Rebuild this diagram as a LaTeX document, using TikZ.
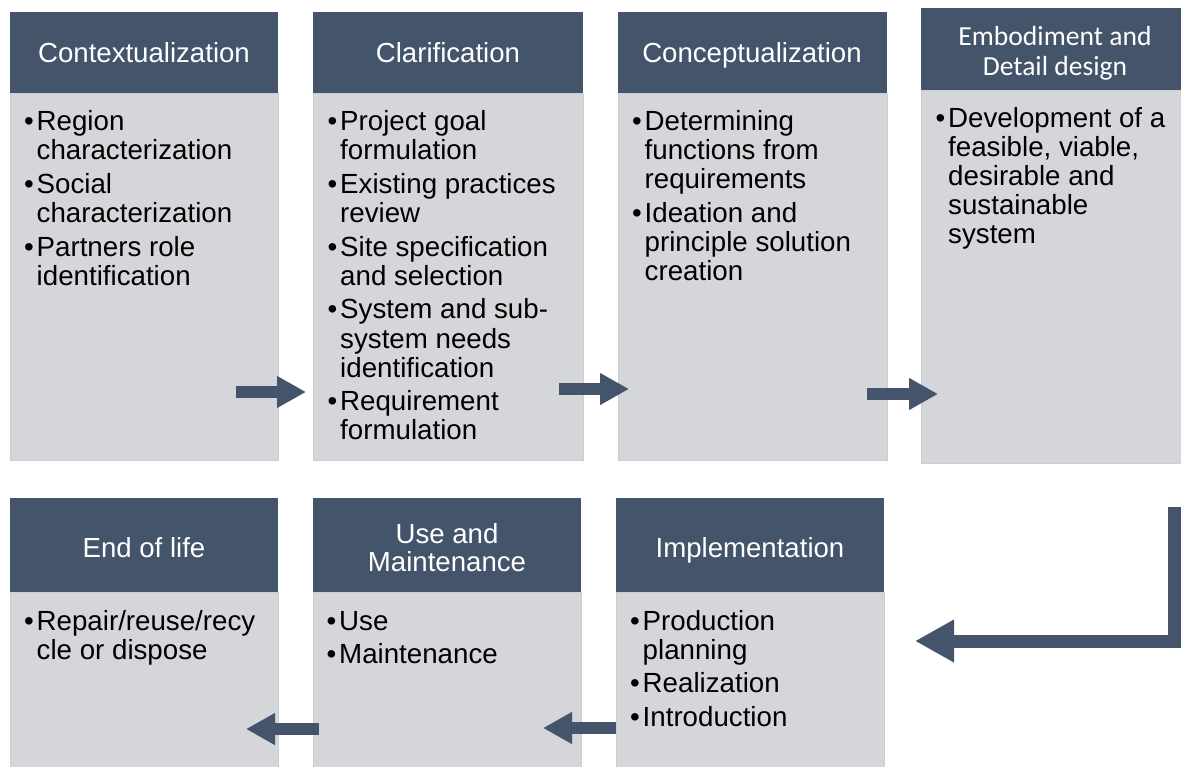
\documentclass[tikz,border=0pt]{standalone}
\usepackage{fontspec}
\setmainfont{Liberation Sans}
\newfontfamily\headfont{Carlito}
\usetikzlibrary{arrows.meta}

\definecolor{slate}{HTML}{44546A}
\definecolor{panel}{HTML}{D5D6DA}
\definecolor{panelline}{HTML}{CACDD2}

% one bulleted paragraph with a hanging indent
\newcommand\bitem[1]{\par\hangindent=12.5pt\hangafter=1\noindent\makebox[12.5pt][l]{\textbullet}#1\par}
% a list of bulleted paragraphs, baseline on its first line
\newcommand\itemlist[1]{\parbox[t]{300pt}{\fontsize{27.7}{29.1}\selectfont\setlength\parskip{4.6pt}#1}}
% centred header lines, baseline on the first line
\newcommand\headlines[2]{\parbox[t]{300pt}{\centering\fontsize{27.6}{#1}\selectfont #2}}

\begin{document}
\begin{tikzpicture}[x=1pt,y=-1pt,
  headbar/.style={fill=slate},
  panelbox/.style={fill=panel,draw=panelline,line width=0.8pt},
  htext/.style={text=white,inner sep=0pt,anchor=base},
  btext/.style={text=black,inner sep=0pt,anchor=base west},
  flow/.style={draw=slate,line width=12pt,-{Triangle[length=29pt,width=30pt]}},
  bigflow/.style={draw=slate,line width=13pt,line join=miter,-{Triangle[length=39pt,width=40pt]}}]

\useasboundingbox (0,0) rectangle (1181,766);
\fill[white] (0,0) rectangle (1181,766);

% ---------- top row panels ----------
\fill[panelbox] (10,93) rectangle (278,460);
\fill[headbar]  (10,12) rectangle (278,93);
\fill[panelbox] (313,93) rectangle (583,460);
\fill[headbar]  (313,12) rectangle (583,93);
\fill[panelbox] (618,93) rectangle (887,460);
\fill[headbar]  (618,12) rectangle (887,93);
\fill[panelbox] (921,90) rectangle (1190,463);
\fill[headbar]  (921,8) rectangle (1190,90);

% ---------- bottom row panels ----------
\fill[panelbox] (10,592) rectangle (278,772);
\fill[headbar]  (10,498) rectangle (278,592);
\fill[panelbox] (313,592) rectangle (581,772);
\fill[headbar]  (313,498) rectangle (581,592);
\fill[panelbox] (616,592) rectangle (884,772);
\fill[headbar]  (616,498) rectangle (884,592);

% ---------- headers ----------
\node[htext,font=\fontsize{27.6}{28.4}\selectfont] (h1) at (144,62.5) {Contextualization};
\node[htext,font=\fontsize{27.6}{28.4}\selectfont] (h2) at (448,62.5) {Clarification};
\node[htext,font=\fontsize{27.6}{28.4}\selectfont] (h3) at (752,62.5) {Conceptualization};
\node[htext] (h4) at (1055,45.5) {\headlines{30}{\headfont Embodiment and\\Detail design}};
\node[htext,font=\fontsize{27.6}{28.4}\selectfont] (h5) at (144,557.5) {End of life};
\node[htext] (h6) at (447,543.5) {\headlines{27.5}{Use and\\Maintenance}};
\node[htext,font=\fontsize{27.6}{28.4}\selectfont] (h7) at (750,557.5) {Implementation};

% ---------- bulleted contents ----------
\node[btext] (b1) at (24,130.5) {\itemlist{%
  \bitem{Region\\characterization}
  \bitem{Social\\characterization}
  \bitem{Partners role\\identification}}};
\node[btext] (b2) at (327.5,130.5) {\itemlist{%
  \bitem{Project goal\\formulation}
  \bitem{Existing practices\\review}
  \bitem{Site specification\\and selection}
  \bitem{System and sub-\\system needs\\identification}
  \bitem{Requirement\\formulation}}};
\node[btext] (b3) at (632,130.5) {\itemlist{%
  \bitem{Determining\\functions from\\requirements}
  \bitem{Ideation and\\principle solution\\creation}}};
\node[btext] (b4) at (935.5,127) {\itemlist{%
  \bitem{Development of a\\feasible, viable,\\desirable and\\sustainable\\system}}};
\node[btext] (b5) at (24,630) {\itemlist{%
  \bitem{Repair/reuse/recy\\cle or dispose}}};
\node[btext] (b6) at (326.5,630) {\itemlist{%
  \bitem{Use}
  \bitem{Maintenance}}};
\node[btext] (b7) at (630,630) {\itemlist{%
  \bitem{Production\\planning}
  \bitem{Realization}
  \bitem{Introduction}}};

% ---------- flow arrows ----------
\coordinate (a1s) at (236,392);   \coordinate (a1e) at (306,392);
\coordinate (a2s) at (559,389);   \coordinate (a2e) at (629,389);
\coordinate (a3s) at (867,394);   \coordinate (a3e) at (938,394);
\coordinate (a4s) at (1174,507);  \coordinate (a4e) at (915,641);
\coordinate (a5s) at (616,728);   \coordinate (a5e) at (543,728);
\coordinate (a6s) at (319,729);   \coordinate (a6e) at (246,729);

\draw[flow] (a1s) -- (a1e);
\draw[flow] (a2s) -- (a2e);
\draw[flow] (a3s) -- (a3e);
\draw[bigflow] (a4s) |- (a4e);
\draw[flow] (a5s) -- (a5e);
\draw[flow] (a6s) -- (a6e);
\end{tikzpicture}
\end{document}
